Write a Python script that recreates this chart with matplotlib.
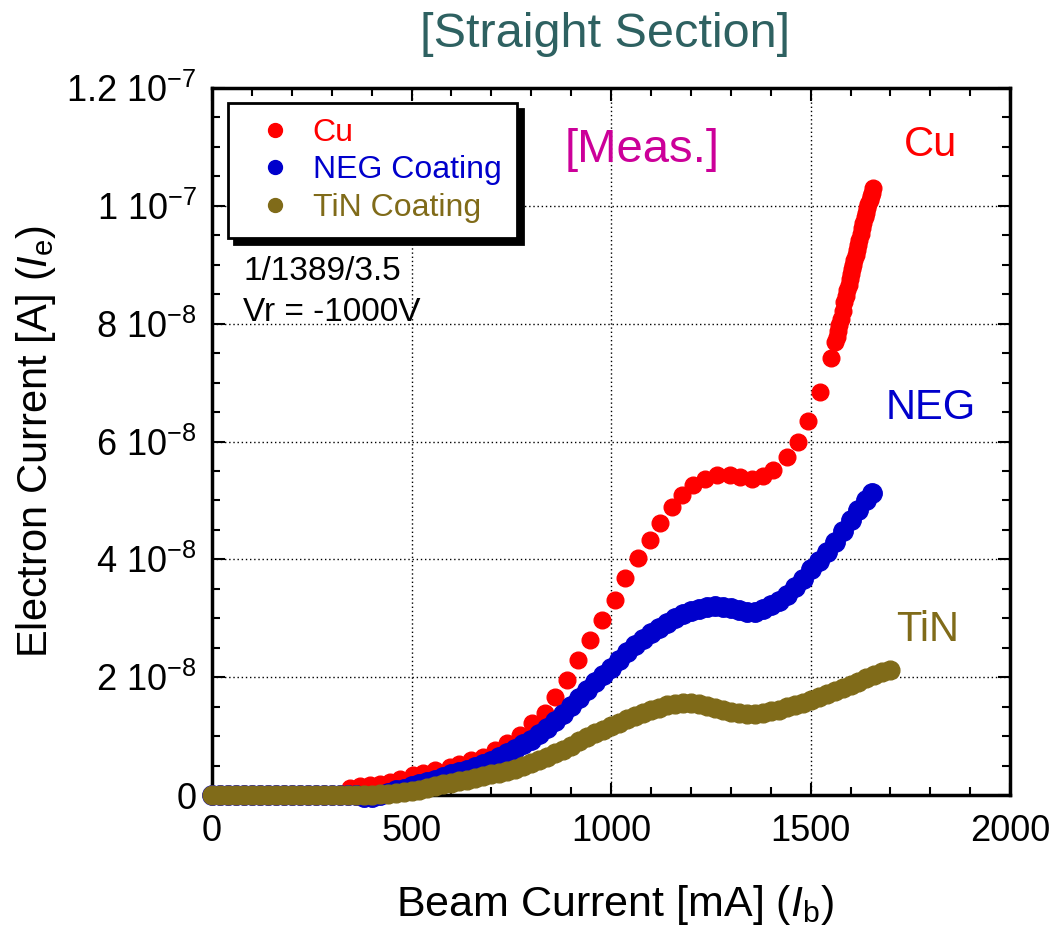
import matplotlib
matplotlib.use('Agg')
import matplotlib.pyplot as plt
from matplotlib.ticker import MultipleLocator

plt.rcParams['font.family'] = ['Liberation Sans', 'DejaVu Sans']
plt.rcParams['mathtext.fontset'] = 'custom'
plt.rcParams['mathtext.rm'] = 'Liberation Sans'
plt.rcParams['mathtext.it'] = 'Liberation Sans:italic'
plt.rcParams['mathtext.bf'] = 'Liberation Sans:bold'

# ---------------------------------------------------------------
# data: beam current [mA], electron current [1e-8 A]
scale = 1e-8

cu_x = [0, 25, 50, 75, 100, 125, 150, 175, 200, 225, 250, 275, 300, 325,
        346, 370, 395, 420, 445, 470, 504, 530, 560, 596, 620, 650, 679,
        710, 739, 772, 802, 835, 860, 889, 918, 947, 977, 1010, 1035, 1068,
        1098, 1123, 1153, 1178, 1206, 1236, 1266, 1298, 1323, 1353, 1381, 1406,
        1441, 1468, 1494, 1524, 1551, 1561, 1565, 1568, 1572, 1576, 1580, 1584,
        1588, 1591, 1595, 1598, 1601, 1604, 1607, 1610, 1613, 1616, 1619, 1622,
        1626, 1629, 1632, 1636, 1639, 1642, 1645, 1648, 1651, 1653, 1656]
cu_y = [0, 0, 0, 0, 0, 0, 0, 0, 0, 0, 0, 0, 0, 0,
        0.12, 0.15, 0.17, 0.19, 0.22, 0.27, 0.34, 0.38, 0.42, 0.48, 0.53, 0.59, 0.65,
        0.76, 0.88, 1.02, 1.22, 1.39, 1.66, 1.95, 2.29, 2.63, 2.97, 3.31, 3.68, 4.02,
        4.33, 4.62, 4.89, 5.10, 5.27, 5.36, 5.43, 5.43, 5.40, 5.36, 5.42, 5.52,
        5.73, 6.00, 6.35, 6.84, 7.42, 7.69, 7.78, 7.88, 7.98, 8.08, 8.22, 8.36,
        8.47, 8.57, 8.66, 8.75, 8.84, 8.92, 9.00, 9.08, 9.16, 9.25, 9.33, 9.42,
        9.52, 9.62, 9.71, 9.81, 9.88, 9.96, 10.03, 10.10, 10.16, 10.22, 10.30]

neg_x = [0, 20, 40, 60, 80, 100, 120, 140, 160, 180, 200, 220, 240, 260, 280,
         300, 320, 340, 360, 380, 400, 420, 440, 460, 480, 500, 520, 540, 560,
         580, 600, 620, 640, 660, 680, 700, 720, 740, 760, 780, 800, 820, 840,
         860, 880, 900, 920, 940, 960, 980, 1000, 1020, 1040, 1060, 1080, 1100,
         1120, 1140, 1160, 1180, 1200, 1220, 1240, 1260, 1280, 1300, 1320, 1340,
         1360, 1380, 1400, 1420, 1440, 1460, 1480, 1500, 1520, 1540, 1560, 1580,
         1600, 1620, 1640, 1654]
neg_y = [0, 0, 0, 0, 0, 0, 0, 0, 0, 0, 0, 0, 0, 0, 0,
         0, 0, 0, 0, -0.04, -0.03, 0.00, 0.04, 0.08, 0.11, 0.15, 0.18, 0.22, 0.26,
         0.31, 0.35, 0.39, 0.43, 0.48, 0.53, 0.58, 0.64, 0.71, 0.78, 0.86, 0.94, 1.03, 1.13,
         1.25, 1.38, 1.51, 1.64, 1.78, 1.92, 2.04, 2.16, 2.29, 2.42, 2.54, 2.65, 2.75,
         2.84, 2.92, 3.00, 3.07, 3.12, 3.16, 3.19, 3.20, 3.19, 3.17, 3.14, 3.11,
         3.11, 3.15, 3.22, 3.30, 3.40, 3.53, 3.67, 3.83, 3.98, 4.12, 4.30, 4.48,
         4.66, 4.83, 5.00, 5.12]

tin_x = [0, 20, 40, 60, 80, 100, 120, 140, 160, 180, 200, 220, 240, 260, 280,
         300, 320, 340, 360, 380, 400, 420, 440, 460, 480, 500, 520, 540, 560,
         580, 600, 620, 640, 660, 680, 700, 720, 740, 760, 780, 800, 820, 840,
         860, 880, 900, 920, 940, 960, 980, 1000, 1020, 1040, 1060, 1080, 1100,
         1120, 1140, 1160, 1180, 1200, 1220, 1240, 1260, 1280, 1300, 1320, 1340,
         1360, 1380, 1400, 1420, 1440, 1460, 1480, 1500, 1520, 1540, 1560, 1580,
         1600, 1620, 1640, 1660, 1680, 1699]
tin_y = [0, 0, 0, 0, 0, 0, 0, 0, 0, 0, 0, 0, 0, 0, 0,
         0, 0, 0, 0, 0, 0, 0.01, 0.02, 0.03, 0.05, 0.07, 0.09, 0.12, 0.15,
         0.18, 0.20, 0.23, 0.26, 0.29, 0.32, 0.35, 0.38, 0.41, 0.45, 0.49, 0.54, 0.59, 0.65,
         0.71, 0.77, 0.84, 0.91, 0.98, 1.05, 1.11, 1.17, 1.23, 1.29, 1.34, 1.39, 1.44,
         1.48, 1.52, 1.54, 1.56, 1.56, 1.54, 1.51, 1.47, 1.44, 1.41, 1.39, 1.38,
         1.38, 1.39, 1.42, 1.45, 1.49, 1.53, 1.57, 1.62, 1.67, 1.72, 1.77, 1.82,
         1.87, 1.92, 1.98, 2.03, 2.08, 2.13]

series = [("Cu", cu_x, cu_y, "#FF0000", 12),
          ("NEG Coating", neg_x, neg_y, "#0000CC", 14),
          ("TiN Coating", tin_x, tin_y, "#806B19", 13.5)]

y_ticks = [0, 2e-8, 4e-8, 6e-8, 8e-8, 1e-7, 1.2e-7]
y_tick_labels = ["0", r"$2\ 10^{-8}$", r"$4\ 10^{-8}$", r"$6\ 10^{-8}$",
                 r"$8\ 10^{-8}$", r"$1\ 10^{-7}$", r"$1.2\ 10^{-7}$"]
x_ticks = [0, 500, 1000, 1500, 2000]

# ---------------------------------------------------------------
fig = plt.figure(figsize=(10.53, 9.36), dpi=100)
ax = fig.add_axes([0.2013, 0.1506, 0.758, 0.7554])

for name, xs, ys, col, ms in series:
    ax.plot(xs, [v * scale for v in ys], 'o', color=col, ms=ms, mec=col,
            label=name, clip_on=False, zorder=3)

ax.set_xlim(0, 2000)
ax.set_ylim(0, 1.2e-7)
ax.set_xticks(x_ticks)
ax.set_xticklabels([str(t) for t in x_ticks])
ax.set_yticks(y_ticks)
ax.set_yticklabels(y_tick_labels)
ax.xaxis.set_minor_locator(MultipleLocator(100))
ax.yaxis.set_minor_locator(MultipleLocator(5e-9))
ax.tick_params(which='both', direction='in', top=True, right=True, width=1.5)
ax.tick_params(which='major', length=9, labelsize=26)
ax.tick_params(axis='x', which='major', pad=14)
ax.tick_params(axis='y', which='major', pad=11)
ax.tick_params(which='minor', length=6)
for s in ax.spines.values():
    s.set_linewidth(2.5)
ax.grid(True, which='major', color='black', linestyle=(0, (1, 2)), linewidth=1)

ax.set_xlabel(r"Beam Current [mA] ($\mathit{I}_\mathrm{b}$)", fontsize=31)
ax.set_ylabel(r"Electron Current [A] ($\mathit{I}_\mathrm{e}$)", fontsize=30)
ax.xaxis.set_label_coords(0.505, -0.125)
ax.yaxis.set_label_coords(-0.193, 0.5)

leg = ax.legend(loc='upper left', bbox_to_anchor=(0.02, 0.979), borderaxespad=0,
                fontsize=23, labelcolor='linecolor', fancybox=False, framealpha=1,
                edgecolor='black', handlelength=2.0, handletextpad=0.18,
                labelspacing=0.23, borderpad=0.475,
                shadow={'ox': 4.5, 'oy': -4.5, 'facecolor': 'black',
                        'edgecolor': 'black', 'alpha': 1})
leg.get_frame().set_linewidth(2)
for h in leg.legend_handles:
    h.set_markersize(10)

ax.text(0.039, 0.74, "1/1389/3.5", transform=ax.transAxes, fontsize=24, va='center')
ax.text(0.039, 0.683, "Vr = -1000V", transform=ax.transAxes, fontsize=24, va='center')
ax.text(0.539, 0.912, "[Meas.]", transform=ax.transAxes, fontsize=34,
        color='#CC0099', ha='center', va='center')
ax.text(0.900, 0.919, "Cu", transform=ax.transAxes, fontsize=30,
        color='#FF0000', ha='center', va='center')
ax.text(0.900, 0.547, "NEG", transform=ax.transAxes, fontsize=30,
        color='#0000CC', ha='center', va='center')
ax.text(0.897, 0.233, "TiN", transform=ax.transAxes, fontsize=30,
        color='#806B19', ha='center', va='center')

fig.text(0.575, 0.963, "[Straight Section]", fontsize=35, color='#2E6161',
         ha='center', va='center')

fig.savefig("out.png", dpi=100)
